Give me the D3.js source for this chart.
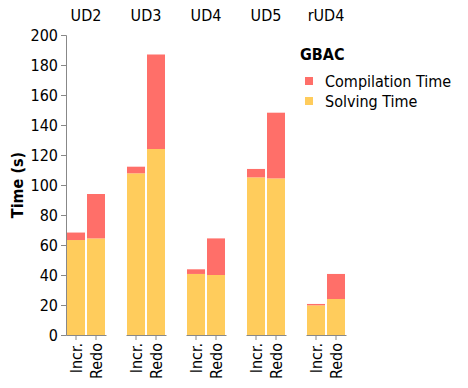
<!DOCTYPE html>
<html>
<head>
<meta charset="utf-8">
<script src="https://cdn.jsdelivr.net/npm/d3@7"></script>
<style>
  body { margin: 0; background: #fff; }
  svg { display: block; font-family: "DejaVu Sans Condensed", "DejaVu Sans", sans-serif; font-stretch: condensed; }
</style>
</head>
<body>
<svg id="chart" width="468" height="388"></svg>
<script>
const categories = ["UD2", "UD3", "UD4", "UD5", "rUD4"];
const methods = ["Incr.", "Redo"];
const solvingIncr = [63.3, 107.8, 40.7, 105.1, 19.8];
const solvingRedo = [64.4, 124, 40, 104.4, 24];
const compileIncr = [5, 4.4, 3.1, 5.6, 0.9];
const compileRedo = [29.6, 63, 24.4, 43.8, 16.7];
const yTicks = [0, 20, 40, 60, 80, 100, 120, 140, 160, 180, 200];
const seriesNames = ["Compilation Time", "Solving Time"];
const colors = ["#ff6f69", "#ffcc5c"];
const legendTitle = "GBAC";
const yTitle = "Time (s)";

const svg = d3.select("#chart");
const plotTop = 35, plotBottom = 335, plotLeft = 66;
const fs = 16;

const y = d3.scaleLinear().domain([0, 200]).range([plotBottom, plotTop]);
const fx = d3.scaleBand().domain(categories).range([plotLeft, plotLeft + 280]).paddingInner(1/3).paddingOuter(0);
const x = d3.scaleBand().domain(methods).range([0, fx.bandwidth()]).paddingInner(0.1).paddingOuter(0.05);
const color = d3.scaleOrdinal().domain(seriesNames).range(colors);

const rows = [];
categories.forEach((c, i) => {
  rows.push({cat: c, method: "Incr.", solving: solvingIncr[i], compile: compileIncr[i]});
  rows.push({cat: c, method: "Redo", solving: solvingRedo[i], compile: compileRedo[i]});
});

// Y axis
const yAxis = svg.append("g").attr("transform", `translate(${plotLeft},0)`)
  .call(d3.axisLeft(y).tickValues(yTicks).tickSize(5).tickPadding(3));
yAxis.attr("font-family", null).attr("font-size", null);
yAxis.selectAll("path, line").attr("stroke", "#888");
yAxis.selectAll("text").attr("font-size", fs).attr("fill", "#000");

svg.append("text")
  .attr("transform", `translate(23,${(plotTop + plotBottom) / 2}) rotate(-90)`)
  .attr("text-anchor", "middle")
  .attr("font-size", fs).attr("font-weight", "bold")
  .text(yTitle);

// Facets
categories.forEach(c => {
  const g = svg.append("g").attr("transform", `translate(${fx(c)},0)`);
  g.append("text")
    .attr("x", fx.bandwidth() / 2).attr("y", 21)
    .attr("text-anchor", "middle").attr("font-size", fs)
    .text(c);
  const data = rows.filter(r => r.cat === c);
  g.selectAll("rect.solve").data(data).enter().append("rect")
    .attr("class", "solve")
    .attr("x", d => x(d.method)).attr("width", x.bandwidth())
    .attr("y", d => y(d.solving)).attr("height", d => y(0) - y(d.solving))
    .attr("fill", color("Solving Time"));
  g.selectAll("rect.comp").data(data).enter().append("rect")
    .attr("class", "comp")
    .attr("x", d => x(d.method)).attr("width", x.bandwidth())
    .attr("y", d => y(d.solving + d.compile)).attr("height", d => y(d.solving) - y(d.solving + d.compile))
    .attr("fill", color("Compilation Time"));
  const xAxis = g.append("g").attr("transform", `translate(0,${plotBottom})`)
    .call(d3.axisBottom(x).tickSize(5).tickSizeOuter(0).tickPadding(3));
  xAxis.attr("font-family", null).attr("font-size", null);
  xAxis.selectAll("path, line").attr("stroke", "#888");
  xAxis.selectAll("text")
    .attr("font-size", fs).attr("fill", "#000")
    .attr("transform", "rotate(-90)")
    .attr("text-anchor", "end")
    .attr("x", -8).attr("y", 0).attr("dy", "0.35em");
});

// Legend
const lg = svg.append("g").attr("transform", "translate(300,0)");
lg.append("text").attr("x", 0).attr("y", 60).attr("font-size", fs).attr("font-weight", "bold").text(legendTitle);
seriesNames.forEach((s, i) => {
  const yy = 81 + i * 20;
  lg.append("rect").attr("x", 5).attr("y", yy - 4).attr("width", 8).attr("height", 8).attr("fill", color(s));
  lg.append("text").attr("x", 25).attr("y", yy).attr("dy", "0.35em").attr("font-size", fs).text(s);
});
</script>
</body>
</html>
